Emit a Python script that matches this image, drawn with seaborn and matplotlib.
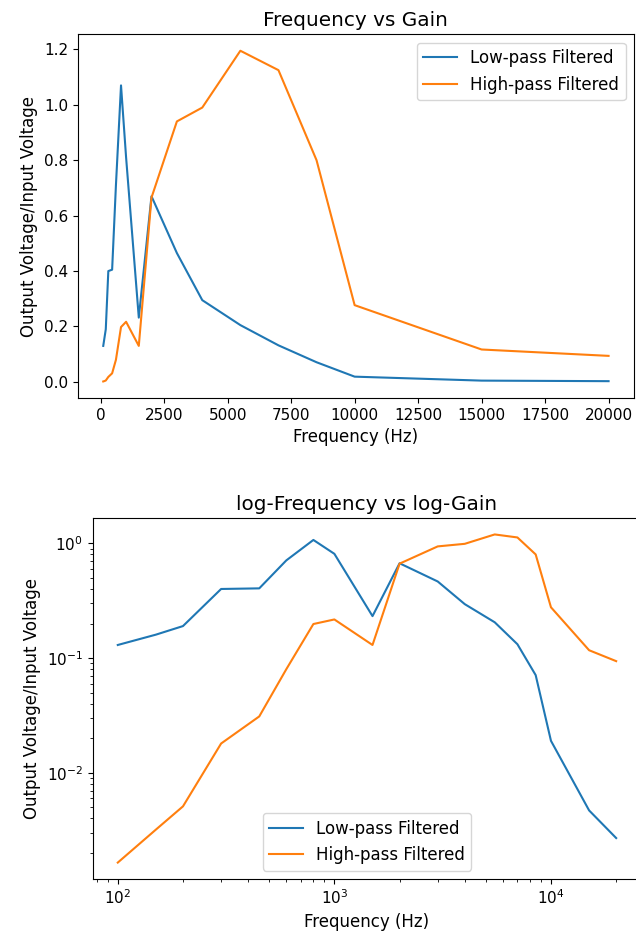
import numpy as np
import pandas as pd

import seaborn as sns
import matplotlib
matplotlib.use("Agg")
import matplotlib.pyplot as plt

# frequencies in Hz
freq = [100, 150, 200, 300, 450, 600, 800, 1000, 1500, 2000, 3000,
        4000, 5500, 7000, 8500, 10000, 15000, 20000]

# output voltage / input voltage
low_pass = [0.13, 0.16, 0.19, 0.40, 0.405, 0.71, 1.07, 0.81, 0.232, 0.67, 0.465,
            0.295, 0.205, 0.132, 0.071, 0.019, 0.0047, 0.0027]
high_pass = [0.00165, 0.0032, 0.0051, 0.018, 0.031, 0.08, 0.198, 0.217, 0.13, 0.665, 0.94,
             0.99, 1.195, 1.125, 0.80, 0.277, 0.117, 0.094]

series_names = ["Low-pass Filtered", "High-pass Filtered"]

df = pd.DataFrame({"freq": freq, "low": low_pass, "high": high_pass})

# font sizes
plt.rcParams["font.size"] = 12
plt.rcParams["xtick.labelsize"] = 11
plt.rcParams["ytick.labelsize"] = 11

fig = plt.figure(figsize=(6.36, 9.4), dpi=100)

# top: linear axes
ax1 = fig.add_axes([0.1226, 0.5766, 0.874, 0.387])
sns.lineplot(data=df, x="freq", y="low", color="C0", label=series_names[0], ax=ax1)
sns.lineplot(data=df, x="freq", y="high", color="C1", label=series_names[1], ax=ax1)
ax1.set_title("Frequency vs Gain")
ax1.set_xlabel("Frequency (Hz)")
ax1.set_ylabel("Output Voltage/Input Voltage")
ax1.set_xticks([0, 2500, 5000, 7500, 10000, 12500, 15000, 17500, 20000])
ax1.legend(loc="upper right")

# bottom: log-log axes
ax2 = fig.add_axes([0.146, 0.0649, 0.862, 0.384])
sns.lineplot(data=df, x="freq", y="low", color="C0", label=series_names[0], ax=ax2)
sns.lineplot(data=df, x="freq", y="high", color="C1", label=series_names[1], ax=ax2)
ax2.set_xscale("log")
ax2.set_yscale("log")
ax2.set_title("log-Frequency vs log-Gain")
ax2.set_xlabel("Frequency (Hz)")
ax2.set_ylabel("Output Voltage/Input Voltage")
ax2.legend(loc="lower center")

fig.savefig("out.png", dpi=100)
